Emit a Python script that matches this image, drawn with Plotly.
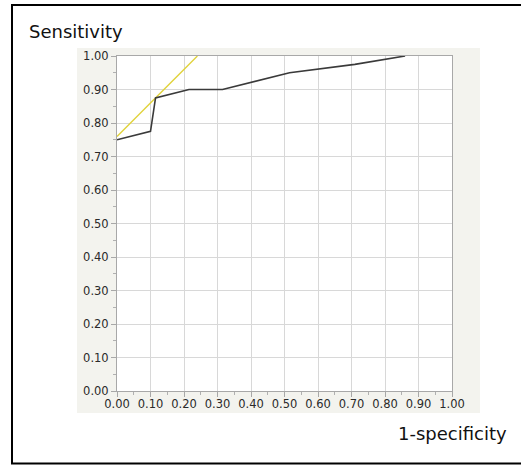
import plotly.graph_objects as go

# ROC curve points (1-specificity, sensitivity)
fpr = [0.00, 0.10, 0.115, 0.215, 0.315, 0.515, 0.71, 0.86]
tpr = [0.75, 0.775, 0.875, 0.90, 0.90, 0.95, 0.975, 1.00]

# Tangent (Youden) line
tan_x = [0.00, 0.24]
tan_y = [0.76, 1.00]

tick_vals = [0.0, 0.1, 0.2, 0.3, 0.4, 0.5, 0.6, 0.7, 0.8, 0.9, 1.0]
tick_text = ["0.00", "0.10", "0.20", "0.30", "0.40", "0.50", "0.60", "0.70", "0.80", "0.90", "1.00"]

W, H = 521, 465
L, R, T, B = 117, 452, 56, 391  # plot area in pixels
PW, PH = R - L, B - T


def px(x):
    return (x - L) / PW


def py(y):
    return (B - y) / PH


fig = go.Figure()
fig.add_trace(go.Scatter(x=tan_x, y=tan_y, mode="lines",
                         line=dict(color="#e0d23a", width=1.4), hoverinfo="skip"))
fig.add_trace(go.Scatter(x=fpr, y=tpr, mode="lines",
                         line=dict(color="#3a3a3a", width=1.6)))

font_family = "DejaVu Sans"
axis_common = dict(
    range=[0, 1],
    tickvals=tick_vals,
    ticktext=tick_text,
    showgrid=True,
    gridcolor="#d8d8d8",
    gridwidth=1,
    zeroline=False,
    showline=True,
    linecolor="#a8a8a8",
    linewidth=1,
    mirror=True,
    ticks="outside",
    ticklen=5,
    tickcolor="#a8a8a8",
    tickfont=dict(family=font_family, size=11.5, color="#2a2a2a"),
    minor=dict(ticks="outside", dtick=0.05, tick0=0, ticklen=3,
               tickcolor="#b0b0b0", showgrid=False),
    fixedrange=True,
)

fig.update_layout(
    width=W, height=H,
    margin=dict(l=L, r=W - R, t=T, b=H - B, pad=0),
    paper_bgcolor="white",
    plot_bgcolor="rgba(0,0,0,0)",
    showlegend=False,
    xaxis=dict(axis_common, ticklabelstandoff=-3),
    yaxis=axis_common,
    shapes=[
        # outer border
        dict(type="rect", xref="paper", yref="paper",
             x0=px(12), x1=px(523), y0=py(463.5), y1=py(5),
             line=dict(color="black", width=2), fillcolor="white", layer="below"),
        # gray panel
        dict(type="rect", xref="paper", yref="paper",
             x0=px(77), x1=px(480), y0=py(413), y1=py(48),
             line=dict(width=0), fillcolor="#f3f3ee", layer="below"),
        # white plot area
        dict(type="rect", xref="paper", yref="paper",
             x0=0, x1=1, y0=0, y1=1,
             line=dict(width=0), fillcolor="white", layer="below"),
    ],
    annotations=[
        dict(text="Sensitivity", xref="paper", yref="paper",
             x=px(27), y=py(32), xanchor="left", yanchor="middle",
             showarrow=False, font=dict(family=font_family, size=18, color="#111111")),
        dict(text="1-specificity", xref="paper", yref="paper",
             x=px(509), y=py(434), xanchor="right", yanchor="middle",
             showarrow=False, font=dict(family=font_family, size=18, color="#111111")),
    ],
)

fig.write_html(
    "out.html",
    config={"displayModeBar": False},
    post_script="document.body.style.margin='0';document.body.style.padding='0';"
                "document.body.style.overflow='hidden';",
)
